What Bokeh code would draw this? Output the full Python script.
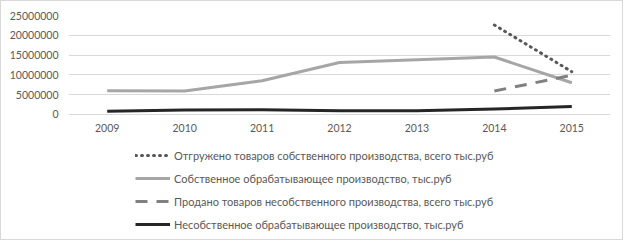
from bokeh.plotting import figure
from bokeh.models import Range1d, FixedTicker, BasicTickFormatter, Legend, LegendItem
from bokeh.embed import file_html
from bokeh.resources import INLINE

years = [2009, 2010, 2011, 2012, 2013, 2014, 2015]
shipped_years = [2014, 2015]
shipped = [22600000, 10800000]          # Отгружено товаров собственного производства
own_proc = [6000000, 5900000, 8500000, 13100000, 13800000, 14500000, 8000000]
sold_years = [2014, 2015]
sold = [5900000, 9900000]               # Продано товаров несобственного производства
other_proc = [800000, 1100000, 1200000, 900000, 900000, 1350000, 2000000]

labels = [
    "Отгружено товаров собственного производства, всего тыс.руб",
    "Собственное обрабатывающее производство, тыс.руб",
    "Продано товаров несобственного производства, всего тыс.руб",
    "Несобственное обрабатывающее производство, тыс.руб",
]
y_ticks = [0, 5000000, 10000000, 15000000, 20000000, 25000000]

FONT = "Lato"
TXT = "#595959"

# the frame spans the whole height; the part below zero holds the x labels and legend
Y_TOP = 25000000
Y_BOTTOM = -Y_TOP * 126 / 98

p = figure(width=623, height=240, output_backend="svg", toolbar_location=None,
           x_range=Range1d(2008.5, 2015.5), y_range=Range1d(Y_BOTTOM, Y_TOP),
           min_border_left=67, min_border_right=14, min_border_top=14, min_border_bottom=0)
p.styles = {"border": "1px solid #d9d9d9"}
p.outline_line_color = None
p.xgrid.grid_line_color = None
p.ygrid.grid_line_color = "#d9d9d9"
p.ygrid.grid_line_width = 1

p.yaxis.ticker = FixedTicker(ticks=y_ticks)
p.yaxis.formatter = BasicTickFormatter(use_scientific=False)
p.xaxis.ticker = FixedTicker(ticks=years)
p.xaxis.formatter = BasicTickFormatter(use_scientific=False)
p.xaxis.fixed_location = 0
for ax in (p.xaxis, p.yaxis):
    ax.axis_line_color = None
    ax.major_tick_line_color = None
    ax.minor_tick_line_color = None
    ax.major_tick_out = 0
    ax.major_tick_in = 0
    ax.major_label_text_font = FONT
    ax.major_label_text_font_size = "10.5px"
    ax.major_label_text_color = TXT
p.yaxis.major_label_standoff = 10
p.xaxis.major_label_standoff = 10

r1 = p.line(shipped_years, shipped, line_color="#595959", line_width=3,
            line_dash="1 5", line_cap="round")
r2 = p.line(years, own_proc, line_color="#a6a6a6", line_width=3, line_join="round")
r3 = p.line(sold_years, sold, line_color="#808080", line_width=3, line_dash="12 9")
r4 = p.line(years, other_proc, line_color="#262626", line_width=3, line_join="round")

legend = Legend(items=[LegendItem(label=labels[0], renderers=[r1]),
                       LegendItem(label=labels[1], renderers=[r2]),
                       LegendItem(label=labels[2], renderers=[r3]),
                       LegendItem(label=labels[3], renderers=[r4])],
                location=(67, 9), orientation="vertical",
                glyph_width=35, glyph_height=16, label_height=16, spacing=7,
                label_standoff=4, padding=0, margin=0,
                border_line_color=None, background_fill_alpha=0,
                label_text_font=FONT, label_text_font_size="11px",
                label_text_color=TXT)
p.add_layout(legend, "center")

open("out.html", "w").write(file_html(p, INLINE))
